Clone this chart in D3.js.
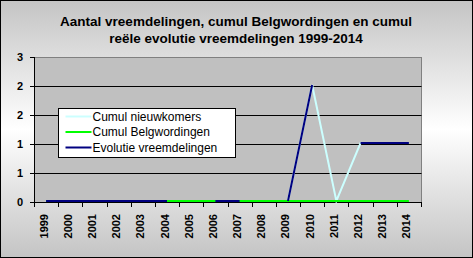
<!DOCTYPE html>
<html>
<head>
<meta charset="utf-8">
<script src="https://cdn.jsdelivr.net/npm/d3@7"></script>
<style>
  body { margin: 0; padding: 0; }
  svg { display: block; font-family: "Liberation Sans", Arial, sans-serif; }
</style>
</head>
<body>
<svg width="473" height="258"></svg>
<script>
// Data
const years = ["1999", "2000", "2001", "2002", "2003", "2004", "2005", "2006",
               "2007", "2008", "2009", "2010", "2011", "2012", "2013", "2014"];
const nieuwkomers   = [0, 0, 0, 0, 0, 0, 0, 0, 0, 0, 0, 2.4, 0, 1.2, 1.2, 1.2];
const belgwordingen = [0, 0, 0, 0, 0, 0, 0, 0, 0, 0, 0, 0, 0, 0, 0, 0];
const evolutie      = [0, 0, 0, 0, 0, 0, null, 0, 0, null, 0, 2.4, null, 1.2, 1.2, 1.2];
const yTicks = [0, 0.6, 1.2, 1.8, 2.4, 3];
const yTickLabels = ["0", "1", "1", "2", "2", "3"];
const seriesNames = ["Cumul nieuwkomers", "Cumul Belgwordingen", "Evolutie vreemdelingen"];
const seriesColors = ["#ccffff", "#00ff00", "#000080"];
const titleLines = ["Aantal vreemdelingen, cumul Belgwordingen en cumul",
                    "reële evolutie vreemdelingen 1999-2014"];

const svg = d3.select("svg");
const width = +svg.attr("width");
const height = +svg.attr("height");
const plot = { left: 34, right: 421, top: 57, bottom: 202 };

// Background gradient
const grad = svg.append("defs").append("linearGradient")
  .attr("id", "bg").attr("x1", 0).attr("y1", 0).attr("x2", 0).attr("y2", 1);
grad.append("stop").attr("offset", "0%").attr("stop-color", "#c4c4c4");
grad.append("stop").attr("offset", "50%").attr("stop-color", "#ffffff");
grad.append("stop").attr("offset", "100%").attr("stop-color", "#c4c4c4");

svg.append("rect")
  .attr("x", 0.5).attr("y", 0.5)
  .attr("width", width - 1).attr("height", height - 1)
  .attr("fill", "url(#bg)")
  .attr("stroke", "#000");

// Title
svg.append("g").selectAll("text")
  .data(titleLines)
  .join("text")
  .attr("x", 236)
  .attr("y", (d, i) => 26 + i * 17)
  .attr("text-anchor", "middle")
  .style("font-size", "13.5px")
  .style("font-weight", "bold")
  .text(d => d);

// Scales
const xScale = d3.scaleBand().domain(years).range([plot.left, plot.right]);
const yScale = d3.scaleLinear().domain([0, 3]).range([plot.bottom, plot.top]);

// Plot area
svg.append("rect")
  .attr("x", plot.left + 0.5).attr("y", plot.top + 0.5)
  .attr("width", plot.right - plot.left).attr("height", plot.bottom - plot.top)
  .attr("fill", "#c0c0c0")
  .attr("stroke", "#808080");

// Gridlines
svg.append("g").selectAll("line")
  .data(yTicks.filter(d => d > 0 && d < 3))
  .join("line")
  .attr("x1", plot.left).attr("x2", plot.right + 0.5)
  .attr("y1", d => Math.round(yScale(d)) + 0.5)
  .attr("y2", d => Math.round(yScale(d)) + 0.5)
  .attr("stroke", "#000");

// Y axis
const yAxis = svg.append("g");
yAxis.append("line")
  .attr("x1", plot.left + 0.5).attr("x2", plot.left + 0.5)
  .attr("y1", plot.top).attr("y2", plot.bottom + 0.5)
  .attr("stroke", "#000");
yAxis.selectAll(".tick")
  .data(yTicks)
  .join("line")
  .attr("x1", plot.left - 4).attr("x2", plot.left)
  .attr("y1", d => Math.round(yScale(d)) + 0.5)
  .attr("y2", d => Math.round(yScale(d)) + 0.5)
  .attr("stroke", "#000");
yAxis.selectAll("text")
  .data(yTicks)
  .join("text")
  .attr("x", 23)
  .attr("y", d => yScale(d))
  .attr("dy", "0.36em")
  .attr("text-anchor", "end")
  .style("font-size", "11px")
  .style("font-weight", "bold")
  .text((d, i) => yTickLabels[i]);

// X axis
const xAxis = svg.append("g");
xAxis.append("line")
  .attr("x1", plot.left).attr("x2", plot.right + 1)
  .attr("y1", plot.bottom + 0.5).attr("y2", plot.bottom + 0.5)
  .attr("stroke", "#000");
xAxis.selectAll(".tick")
  .data(years.map(y => xScale(y)).concat([plot.right]))
  .join("line")
  .attr("x1", d => Math.round(d) + 0.5).attr("x2", d => Math.round(d) + 0.5)
  .attr("y1", plot.bottom).attr("y2", plot.bottom + 5)
  .attr("stroke", "#000");
xAxis.selectAll("text")
  .data(years)
  .join("text")
  .attr("transform", d => `translate(${xScale(d) + xScale.bandwidth() / 2 + 1.5}, 214) rotate(-90)`)
  .attr("text-anchor", "end")
  .style("font-size", "11px")
  .style("font-weight", "bold")
  .text(d => d);

// Lines
const line = d3.line()
  .defined(d => d != null)
  .x((d, i) => xScale(years[i]) + xScale.bandwidth() / 2)
  .y(d => yScale(d) - 1);

svg.append("g").selectAll("path")
  .data([nieuwkomers, belgwordingen, evolutie])
  .join("path")
  .attr("fill", "none")
  .attr("stroke", (d, i) => seriesColors[i])
  .attr("stroke-width", 2)
  .attr("d", line);

// Legend
const legend = svg.append("g").attr("transform", "translate(58.5, 108.5)");
legend.append("rect")
  .attr("width", 177).attr("height", 49)
  .attr("fill", "#fff").attr("stroke", "#000");
const items = legend.selectAll("g")
  .data(seriesNames)
  .join("g")
  .attr("transform", (d, i) => `translate(0, ${8 + i * 15.5})`);
items.append("line")
  .attr("x1", 7).attr("x2", 33)
  .attr("stroke", (d, i) => seriesColors[i])
  .attr("stroke-width", 2);
items.append("text")
  .attr("x", 34)
  .attr("dy", "0.36em")
  .style("font-size", "12px")
  .text(d => d);
</script>
</body>
</html>
